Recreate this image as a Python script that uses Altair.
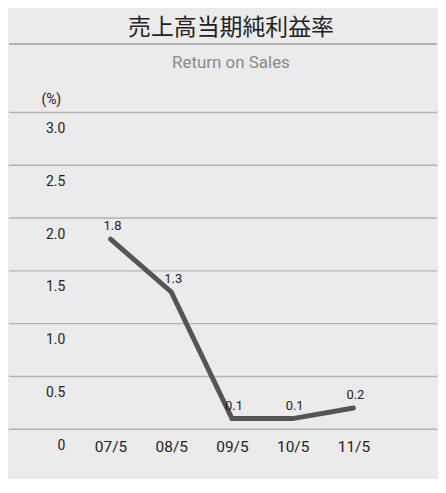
import altair as alt
import pandas as pd

periods = ["07/5", "08/5", "09/5", "10/5", "11/5"]
ros = [1.8, 1.3, 0.1, 0.1, 0.2]
label_text = ["1.8", "1.3", "0.1", "0.1", "0.2"]
y_ticks = [0, 0.5, 1.0, 1.5, 2.0, 2.5, 3.0]

df = pd.DataFrame({"period": periods, "ros": ros, "label": label_text})
grid_df = pd.DataFrame({"ros": y_ticks})

FONT = "Liberation Sans Narrow, Roboto, sans-serif"
BG = "#ebebeb"
GRID = "#b3b3b3"
W = 430

x_enc = alt.X(
    "period:O",
    sort=periods,
    scale=alt.Scale(type="point", padding=0, range=[102, 346]),
    axis=alt.Axis(
        title=None, domain=False, ticks=False, grid=False,
        labelAngle=0, labelFontSize=15.5, labelColor="#222222", labelFont=FONT,
        labelBaseline="middle", labelPadding=17,
    ),
)
y_enc = alt.Y(
    "ros:Q",
    scale=alt.Scale(domain=[0, 3]),
    axis=alt.Axis(
        values=y_ticks, title="(%)", titleAngle=0, titleAlign="center",
        titleBaseline="middle", titleX=42, titleY=-13, titleFont=FONT,
        titleFontSize=14, titleFontWeight="normal", titleColor="#222222",
        domain=False, ticks=False, grid=False,
        labelAlign="right", labelPadding=-56, labelOffset=16, labelBaseline="middle",
        labelFontSize=14, labelColor="#222222", labelFont=FONT,
        labelExpr="datum.value == 0 ? '0' : format(datum.value, '.1f')",
    ),
)

grid = alt.Chart(grid_df).mark_rule(color=GRID, strokeWidth=1.5).encode(
    y=alt.Y("ros:Q"), x=alt.value(0), x2=alt.value(W)
)

sep = alt.Chart(grid_df).mark_rule(color=GRID, strokeWidth=1.5, clip=False).encode(
    x=alt.value(0), x2=alt.value(W), y=alt.value(-69)
)

line = alt.Chart(df).mark_line(color="#555555", strokeWidth=5, strokeCap="round").encode(
    x=x_enc, y=y_enc
)
labels = alt.Chart(df).mark_text(
    dy=-13, dx=2, fontSize=13, color="#222222", font=FONT
).encode(x=alt.X("period:O", sort=periods), y="ros:Q", text="label:N")

chart = alt.layer(sep, grid, line, labels).properties(
    width=W,
    height=318,
    title=alt.TitleParams(
        text="売上高当期純利益率",
        subtitle="Return on Sales",
        font="Noto Sans CJK JP",
        fontSize=23,
        fontWeight="normal",
        color="#222222",
        subtitleFont=FONT,
        subtitleFontSize=17,
        subtitleColor="#8a8a8a",
        subtitlePadding=15.5,
        anchor="middle",
        frame="group",
        dx=8,
        offset=-28,
    ),
    padding={"left": 0, "top": 7, "right": 0, "bottom": 23},
).configure(
    background=BG,
).configure_view(stroke=None)

chart.save("out.html", embed_options={"renderer": "svg", "actions": False})
